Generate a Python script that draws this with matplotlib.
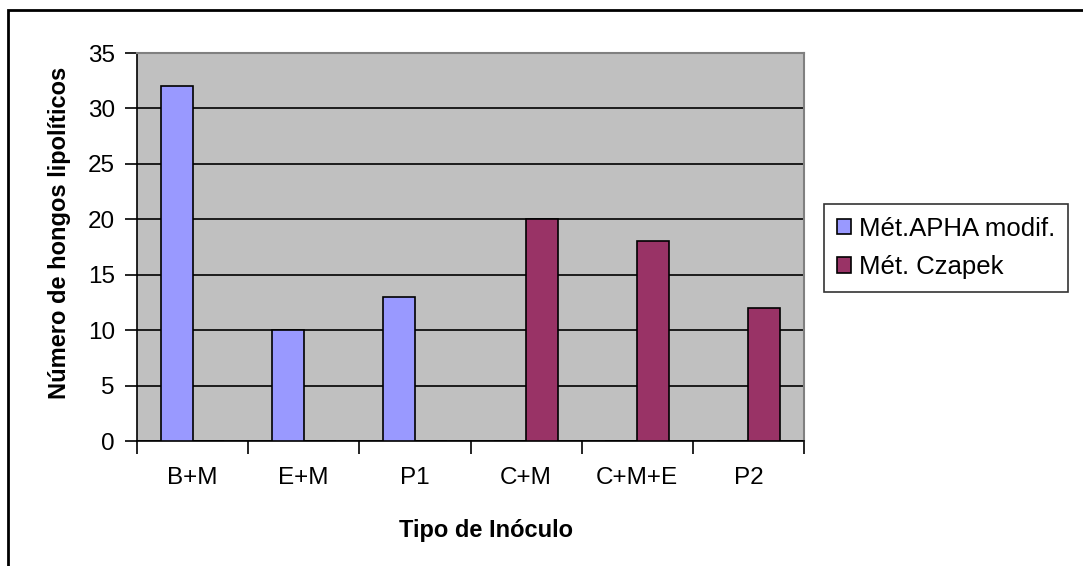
import numpy as np
import matplotlib.pyplot as plt
from matplotlib.patches import Rectangle, Patch

plt.rcParams['font.family'] = ['Liberation Sans', 'DejaVu Sans']

categories = ['B+M', 'E+M', 'P1', 'C+M', 'C+M+E', 'P2']
apha = [32, 10, 13, 0, 0, 0]
czapek = [0, 0, 0, 20, 18, 12]
series_names = ['Mét.APHA modif.', 'Mét. Czapek']
colors = ['#9999FF', '#993366']

W, H = 1083, 566
fig = plt.figure(figsize=(W / 100, H / 100), dpi=100)

# chart border (only top and left edges fall inside the image)
fig.patches.append(Rectangle((8 / W, -0.1), 1.2, 1 - 10 / H + 0.1,
                             transform=fig.transFigure, fill=False,
                             edgecolor='black', linewidth=2))

ax = fig.add_axes([137 / W, 1 - 441 / H, (804 - 137) / W, (441 - 53) / H])
ax.set_facecolor('#C0C0C0')

x = np.arange(len(categories))
width = 1 / 3.5
ax.bar(x - width / 2, apha, width, color=colors[0], edgecolor='black',
       linewidth=1.2, zorder=3)
ax.bar(x + width / 2, czapek, width, color=colors[1], edgecolor='black',
       linewidth=1.2, zorder=3)

ax.set_xlim(-0.5, len(categories) - 0.5)
ax.set_ylim(0, 35)
ax.set_yticks(np.arange(0, 36, 5))
ax.yaxis.grid(True, color='black', linewidth=1.2, zorder=0)
ax.set_axisbelow(True)

# category ticks sit between the groups, labels at group centres
ax.set_xticks(np.arange(-0.5, len(categories)), minor=False)
ax.set_xticklabels([])
ax.set_xticks(x, minor=True)
ax.set_xticklabels(categories, minor=True, fontsize=17.5)
ax.tick_params(axis='x', which='major', direction='out', length=9,
               width=1.2, color='black')
ax.tick_params(axis='x', which='minor', length=0, pad=19)
ax.tick_params(axis='y', direction='out', length=9, width=1.2,
               labelsize=17.5, pad=7)

for side in ['top', 'right']:
    ax.spines[side].set_color('#808080')
    ax.spines[side].set_linewidth(1.5)
for side in ['left', 'bottom']:
    ax.spines[side].set_linewidth(1.2)

fig.text(486 / W, 1 - 530 / H, 'Tipo de Inóculo', fontsize=17,
         fontweight='bold', ha='center', va='center')
fig.text(60 / W, 1 - 233 / H, 'Número de hongos lipolíticos', fontsize=17,
         fontweight='bold', ha='center', va='center', rotation=90)

handles = [Patch(facecolor=c, edgecolor='black', linewidth=1.2)
           for c in colors]
leg = fig.legend(handles, series_names, loc='upper left',
                 bbox_to_anchor=(824 / W, 1 - 204 / H), fontsize=18.5,
                 frameon=True, fancybox=False, edgecolor='black',
                 handlelength=0.55, handleheight=0.55, handletextpad=0.3,
                 borderpad=0.5, labelspacing=0.55, borderaxespad=0)
leg.get_frame().set_linewidth(1.2)

fig.savefig('out.png', dpi=100)
